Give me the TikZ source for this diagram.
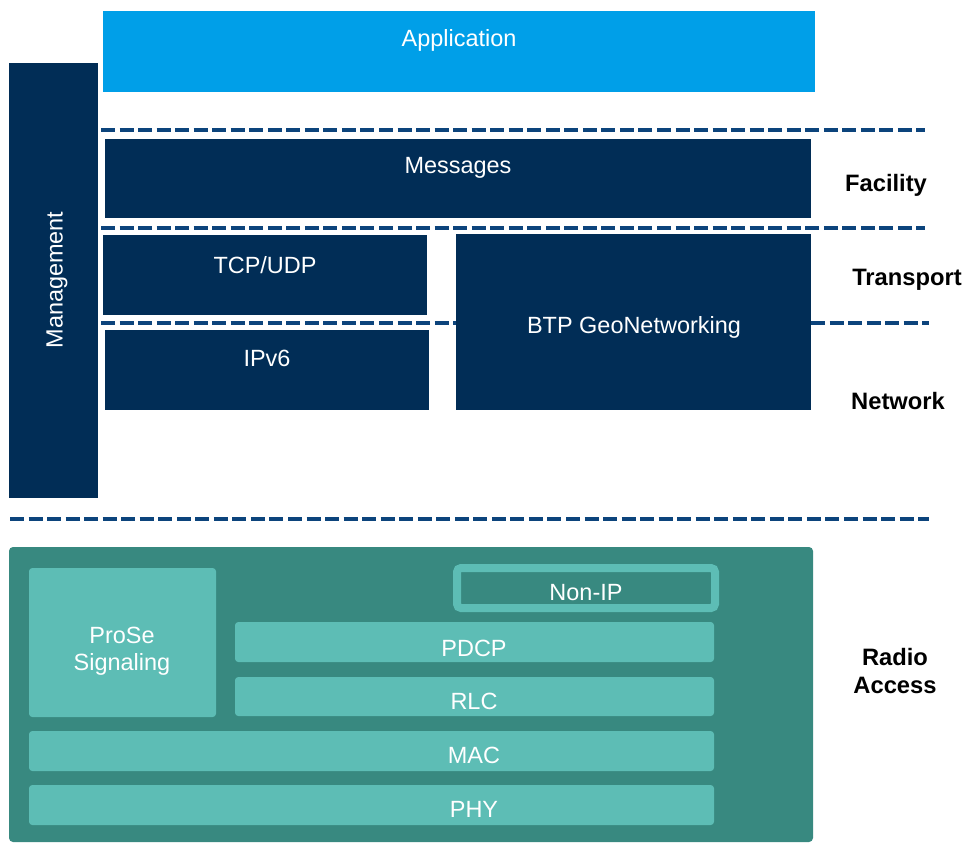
\documentclass[tikz,border=0pt]{standalone}
\usepackage{fontspec}
\setmainfont{Liberation Sans}
\usetikzlibrary{fit}
\definecolor{appblue}{RGB}{0,159,232}
\definecolor{navy}{RGB}{1,45,86}
\definecolor{dashc}{RGB}{12,68,124}
\definecolor{teald}{RGB}{56,137,128}
\definecolor{teall}{RGB}{93,189,181}
\tikzset{
  blk/.style={inner sep=0pt, outer sep=0pt, draw=none},
  navyblk/.style={blk, fill=navy},
  tealblk/.style={blk, fill=teall, rounded corners=2.5pt},
  wtxt/.style={text=white, font=\fontsize{17.6}{20.5}\selectfont, inner sep=0pt, align=center},
  btxt/.style={text=black, font=\bfseries\fontsize{17.8}{21}\selectfont, inner sep=0pt, align=center},
  dashline/.style={draw=dashc, line width=3pt, dash pattern=on 10.5pt off 3.4pt}
}
\begin{document}
\begin{tikzpicture}[x=0.75pt, y=-0.75pt]
\useasboundingbox (0,0) rectangle (967,843);
% upper blocks
\node[blk, fill=appblue, fit={(103,11)(815,92)}] (app) {};
\node[navyblk, fit={(9,63)(98,498)}] (mgmt) {};
\node[navyblk, fit={(105,139)(811,218)}] (msg) {};
\node[navyblk, fit={(103,235)(427,315)}] (tcp) {};
\node[navyblk, fit={(105,330)(429,410)}] (ipv6) {};
\node[navyblk, fit={(456,234)(811,410)}] (btp) {};
% dashed separators
\coordinate (d1a) at (101,130); \coordinate (d1b) at (925,130);
\coordinate (d2a) at (101,228); \coordinate (d2b) at (925,228);
\coordinate (d3a) at (101,323); \coordinate (d3b) at (456,323);
\coordinate (d3c) at (811,323); \coordinate (d3d) at (929,323);
\coordinate (d4a) at (10,519);  \coordinate (d4b) at (929,519);
\draw[dashline] (d1a) -- (d1b);
\draw[dashline] (d2a) -- (d2b);
\draw[dashline] (d3a) -- (d3b);
\draw[dashline] (d3c) -- (d3d);
\draw[dashline] (d4a) -- (d4b);
% texts upper
\node[wtxt] (tapp) at (459,40) {Application};
\node[wtxt] (tmsg) at (458,168) {Messages};
\node[wtxt] (ttcp) at (265,265) {TCP/UDP};
\node[wtxt] (tipv6) at (267,358) {IPv6};
\node[wtxt] (tbtp) at (634,327) {BTP GeoNetworking};
\node[wtxt, rotate=90] (tmgmt) at (57,280) {Management};
% radio access
\node[blk, fill=teald, rounded corners=3pt, fit={(9,547)(813,842)}] (radio) {};
\node[tealblk, fit={(29,568)(216,717)}] (prose) {};
\node[blk, fill=teald, draw=teall, line width=6pt, rounded corners=3pt, fit={(457,568)(715,608)}] (nonip) {};
\node[tealblk, fit={(235,622)(714,662)}] (pdcp) {};
\node[tealblk, fit={(235,677)(714,716)}] (rlc) {};
\node[tealblk, fit={(29,731)(714,771)}] (mac) {};
\node[tealblk, fit={(29,785)(714,825)}] (phy) {};
\node[wtxt] (tprose) at (122,651) {ProSe\\Signaling};
\node[wtxt] (tnonip) at (586,593) {Non-IP};
\node[wtxt] (tpdcp) at (474,648) {PDCP};
\node[wtxt] (trlc) at (474,701) {RLC};
\node[wtxt] (tmac) at (474,755) {MAC};
\node[wtxt] (tphy) at (474,809) {PHY};
% layer labels
\node[btxt] (lfac) at (886,185) {Facility};
\node[btxt] (ltra) at (907,280) {Transport};
\node[btxt] (lnet) at (898,401) {Network};
\node[btxt] (lrad) at (895,671) {Radio\\Access};
\end{tikzpicture}
\end{document}
